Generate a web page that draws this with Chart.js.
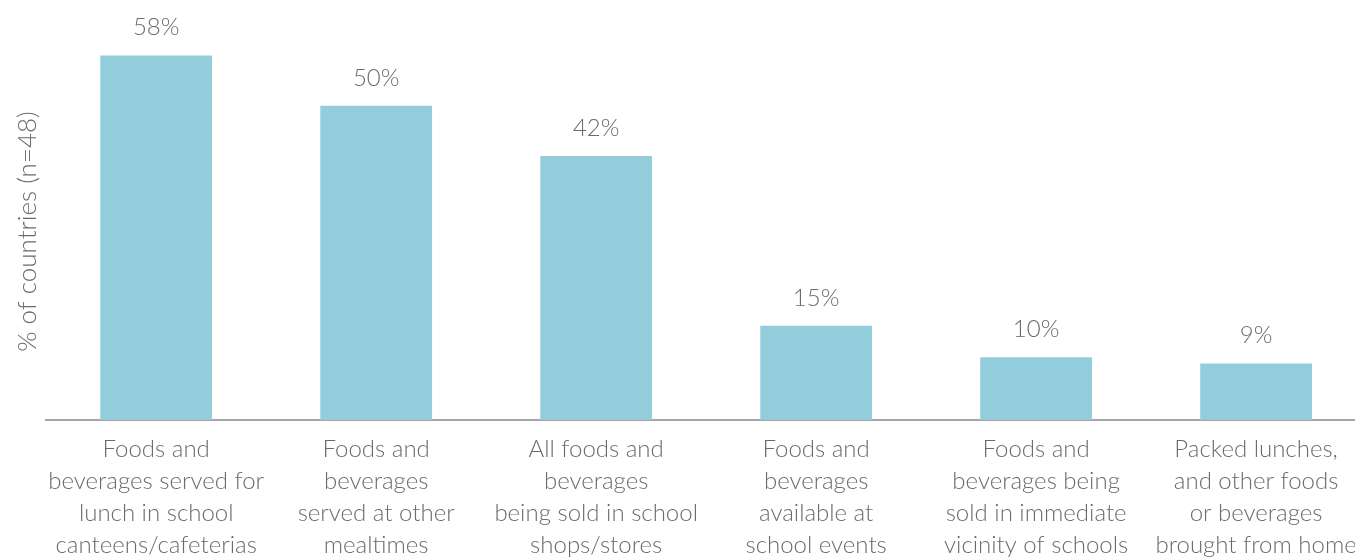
<!doctype html>
<html>
<head>
  <meta charset="utf-8" />
  <title>School food policies</title>
  <script src="https://cdn.jsdelivr.net/npm/chart.js"></script>
  <style>
    html, body { margin: 0; padding: 0; overflow: hidden; background: #fff; }
    canvas { display: block; }
  </style>
</head>
<body>
  <canvas id="chart" width="1370" height="574"></canvas>

  <script>
    const categories = [
      ["Foods and", "beverages served for", "lunch in school", "canteens/cafeterias"],
      ["Foods and", "beverages", "served at other", "mealtimes"],
      ["All foods and", "beverages", "being sold in school", "shops/stores"],
      ["Foods and", "beverages", "available at", "school events"],
      ["Foods and", "beverages being", "sold in immediate", "vicinity of schools"],
      ["Packed lunches,", "and other foods", "or beverages", "brought from home"]
    ];
    const shares = [58, 50, 42, 15, 10, 9];

    const textColor = "#6b6b6b";
    const fontFamily = "Lato, 'Open Sans', sans-serif";

    // value labels above each bar
    const valueLabels = {
      id: "valueLabels",
      afterDatasetsDraw(chart) {
        const ctx = chart.ctx;
        const meta = chart.getDatasetMeta(0);
        ctx.save();
        ctx.fillStyle = textColor;
        ctx.font = "300 24px " + fontFamily;
        ctx.textAlign = "center";
        ctx.textBaseline = "middle";
        meta.data.forEach((bar, i) => {
          ctx.fillText(shares[i] + "%", bar.x, bar.y - 28);
        });
        ctx.restore();
      }
    };

    new Chart(document.getElementById("chart"), {
      type: "bar",
      data: {
        labels: categories,
        datasets: [{
          data: shares,
          backgroundColor: "#93cddc",
          barPercentage: 0.508,
          categoryPercentage: 1.0
        }]
      },
      options: {
        responsive: false,
        devicePixelRatio: 1,
        animation: false,
        layout: { padding: { left: 12, right: 3, top: 43, bottom: 0 } },
        plugins: { legend: { display: false }, tooltip: { enabled: false } },
        scales: {
          x: {
            grid: { display: false, drawTicks: false },
            border: { display: true, color: "#a6a6a6", width: 2 },
            ticks: {
              color: textColor,
              font: { family: fontFamily, size: 24, weight: 300, lineHeight: 1.333 },
              padding: 13,
              maxRotation: 0,
              autoSkip: false
            }
          },
          y: {
            min: 0,
            max: 60,
            grid: { display: false, drawTicks: false },
            border: { display: false },
            ticks: { display: false },
            title: {
              display: true,
              text: "% of countries (n=48)",
              color: textColor,
              font: { family: fontFamily, size: 26, weight: 300 },
              padding: { top: 0, bottom: 3 }
            }
          }
        }
      },
      plugins: [valueLabels]
    });
  </script>
</body>
</html>
